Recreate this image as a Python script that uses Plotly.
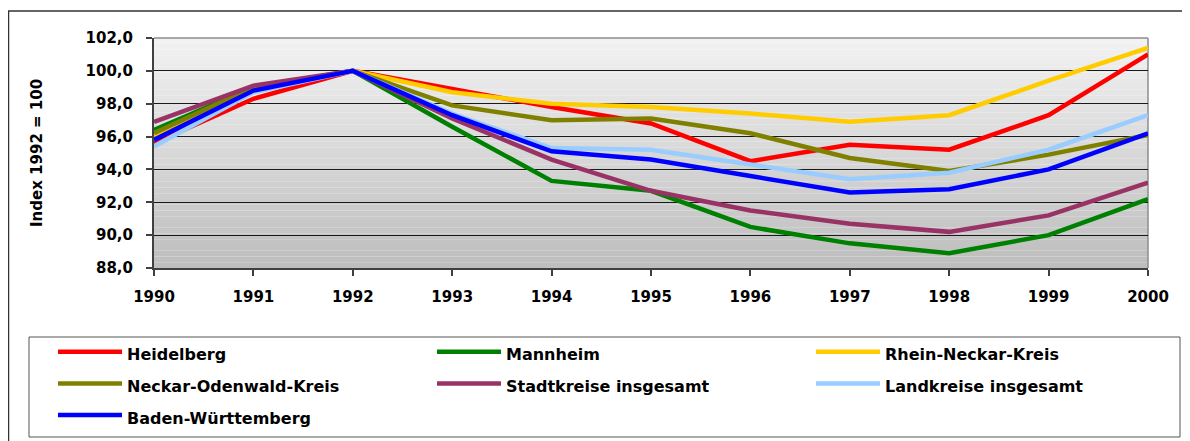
import plotly.graph_objects as go

# Beschäftigungsindex, 1992 = 100
years = [1990, 1991, 1992, 1993, 1994, 1995, 1996, 1997, 1998, 1999, 2000]
heidelberg = [95.6, 98.3, 100.0, 98.9, 97.8, 96.8, 94.5, 95.5, 95.2, 97.3, 101.0]
mannheim = [96.4, 99.0, 100.0, 96.6, 93.3, 92.7, 90.5, 89.5, 88.9, 90.0, 92.2]
rhein_neckar = [96.0, 98.9, 100.0, 98.7, 98.0, 97.8, 97.4, 96.9, 97.3, 99.4, 101.4]
neckar_odenwald = [96.2, 99.0, 100.0, 97.9, 97.0, 97.1, 96.2, 94.7, 93.9, 94.9, 96.1]
stadtkreise = [96.9, 99.1, 100.0, 97.1, 94.6, 92.7, 91.5, 90.7, 90.2, 91.2, 93.2]
landkreise = [95.4, 98.7, 100.0, 97.4, 95.3, 95.2, 94.3, 93.4, 93.8, 95.2, 97.3]
baden_wuerttemberg = [95.8, 98.8, 100.0, 97.3, 95.1, 94.6, 93.6, 92.6, 92.8, 94.0, 96.2]

series = [
    ("Heidelberg", heidelberg, "#FF0000"),
    ("Mannheim", mannheim, "#008000"),
    ("Rhein-Neckar-Kreis", rhein_neckar, "#FFCC00"),
    ("Neckar-Odenwald-Kreis", neckar_odenwald, "#808000"),
    ("Stadtkreise insgesamt", stadtkreise, "#993366"),
    ("Landkreise insgesamt", landkreise, "#99CCFF"),
    ("Baden-Württemberg", baden_wuerttemberg, "#0000FF"),
]

FONT = "DejaVu Sans"

fig = go.Figure()
for name, vals, col in series:
    # small span inside a bigger legend font -> taller legend rows
    fig.add_trace(go.Scatter(x=years, y=vals, mode="lines",
                             name=f'<span style="font-size:16px">{name}</span>',
                             line=dict(color=col, width=4.5)))

# page body adds 8px, so margins are 8px smaller; positions below are
# written in screen pixels and turned into paper coordinates
L, R, T, B = 154, 1148, 38, 268
H = 450
def px(x):
    return (x - L) / (R - L)
def py(y):
    return (B - y) / (B - T)

shapes = []
n = 40
for i in range(n):
    t = i / (n - 1)
    g = int(190 + (242 - 190) * t)
    shapes.append(dict(type="rect", xref="paper", yref="paper",
                       x0=0, x1=1, y0=i / n, y1=(i + 1) / n,
                       fillcolor=f"rgb({g},{g},{g})", line_width=0, layer="below"))
# grey top / right border of plot area
shapes.append(dict(type="line", xref="paper", yref="paper", x0=0, x1=1, y0=1, y1=1,
                   line=dict(color="#8c8c8c", width=1.5)))
shapes.append(dict(type="line", xref="paper", yref="paper", x0=1, x1=1, y0=0, y1=1,
                   line=dict(color="#8c8c8c", width=1.5), layer="below"))
# outer chart frame
shapes.append(dict(type="rect", xref="paper", yref="paper",
                   x0=px(8.5), x1=1.1, y0=-1.5, y1=py(11),
                   line=dict(color="#333333", width=1.5)))
# legend frame
shapes.append(dict(type="rect", xref="paper", yref="paper",
                   x0=px(29), x1=px(1180), y0=py(437), y1=py(337),
                   line=dict(color="#555555", width=1), fillcolor="white", layer="below"))

fig.update_layout(
    width=1182, height=H,
    margin=dict(l=L - 8, r=1190 - R, t=T - 8, b=H + 8 - B),
    paper_bgcolor="white",
    plot_bgcolor="rgba(0,0,0,0)",
    separators=",.",
    font=dict(family=FONT, size=15, color="black", weight="bold"),
    shapes=shapes,
    showlegend=True,
    legend=dict(
        orientation="h", x=px(54), xanchor="left",
        y=py(331), yanchor="top",
        entrywidth=300, entrywidthmode="pixels", itemwidth=64,
        borderwidth=0, bgcolor="rgba(0,0,0,0)",
        font=dict(family=FONT, size=22, color="black", weight="bold"),
        traceorder="normal",
    ),
    annotations=[dict(
        text="Index 1992 = 100", textangle=-90, xref="paper", yref="paper",
        x=px(37), y=0.5, xanchor="center", yanchor="middle",
        showarrow=False, font=dict(family=FONT, size=15, color="black", weight="bold"),
    )],
)

fig.update_xaxes(
    range=[1990, 2000], tickvals=years, ticktext=[str(y) for y in years],
    showgrid=False, zeroline=False,
    showline=True, linecolor="#404040", linewidth=2,
    ticks="outside", ticklen=6, tickcolor="#404040", tickwidth=1.5,
    ticklabelstandoff=8,
)
fig.update_yaxes(
    range=[88, 102], tickvals=list(range(88, 101, 2)) + [102], tickformat=".1f",
    showgrid=True, gridcolor="#1a1a1a", gridwidth=1, zeroline=False,
    showline=True, linecolor="#404040", linewidth=2,
    ticks="outside", ticklen=6, tickcolor="#404040", tickwidth=1.5,
    ticklabelstandoff=10,
)

fig.write_html("out.html")
